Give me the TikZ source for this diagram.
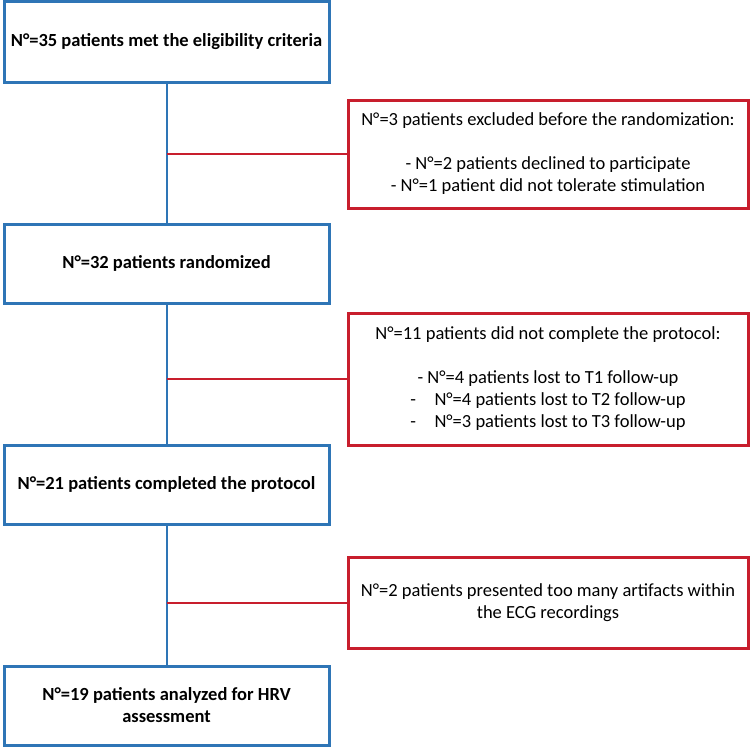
\documentclass[tikz,border=0pt]{standalone}
\usepackage{fontspec}
\setmainfont{Carlito}
\usepackage{tikz}
\definecolor{flowblue}{RGB}{46,117,182}
\definecolor{flowred}{RGB}{200,30,45}
\tikzset{
  mainbox/.style={draw=flowblue,line width=3pt,minimum width=325pt,align=center,
    font=\bfseries\fontsize{18.5}{22}\selectfont,inner sep=0pt},
  exclbox/.style={draw=flowred,line width=3pt,minimum width=400pt,align=center,
    font=\fontsize{18.5}{22}\selectfont,inner sep=0pt},
  trunk/.style={flowblue,line width=2pt},
  branch/.style={flowred,line width=2pt}
}
\begin{document}
\begin{tikzpicture}[x=1pt,y=-1pt]
            \useasboundingbox (0,0) rectangle (750,747);

            \node[mainbox,minimum height=81pt] (b1) at (166.5,41.5) {N°=35 patients met the eligibility criteria};
            \node[mainbox,minimum height=79pt] (b2) at (166.5,263.5) {N°=32 patients randomized};
            \node[mainbox,minimum height=79pt] (b3) at (166.5,484.5) {N°=21 patients completed the protocol};
            \node[mainbox,minimum height=79pt] (b4) at (166.5,705.5) {N°=19 patients analyzed for HRV\\assessment};

            \node[exclbox,minimum height=108pt] (r1) at (548,154) {N°=3 patients excluded before the randomization:\\[22pt]
              - N°=2 patients declined to participate\\- N°=1 patient did not tolerate stimulation};
            \node[exclbox,minimum height=132pt] (r2) at (548,379) {N°=11 patients did not complete the protocol:\\[22pt]
              - N°=4 patients lost to T1 follow-up\\-\quad N°=4 patients lost to T2 follow-up\\-\quad N°=3 patients lost to T3 follow-up};
            \node[exclbox,minimum height=91pt] (r3) at (548,602.5) {N°=2 patients presented too many artifacts within\\the ECG recordings};

            % main flow
            \draw[trunk] (b1.south) -- (b2.north);
            \draw[trunk] (b2.south) -- (b3.north);
            \draw[trunk] (b3.south) -- (b4.north);

            % exclusions
            \draw[branch] (b1.south |- r1.west) -- (r1.west);
            \draw[branch] (b2.south |- r2.west) -- (r2.west);
            \draw[branch] (b3.south |- r3.west) -- (r3.west);
\end{tikzpicture}
\end{document}
